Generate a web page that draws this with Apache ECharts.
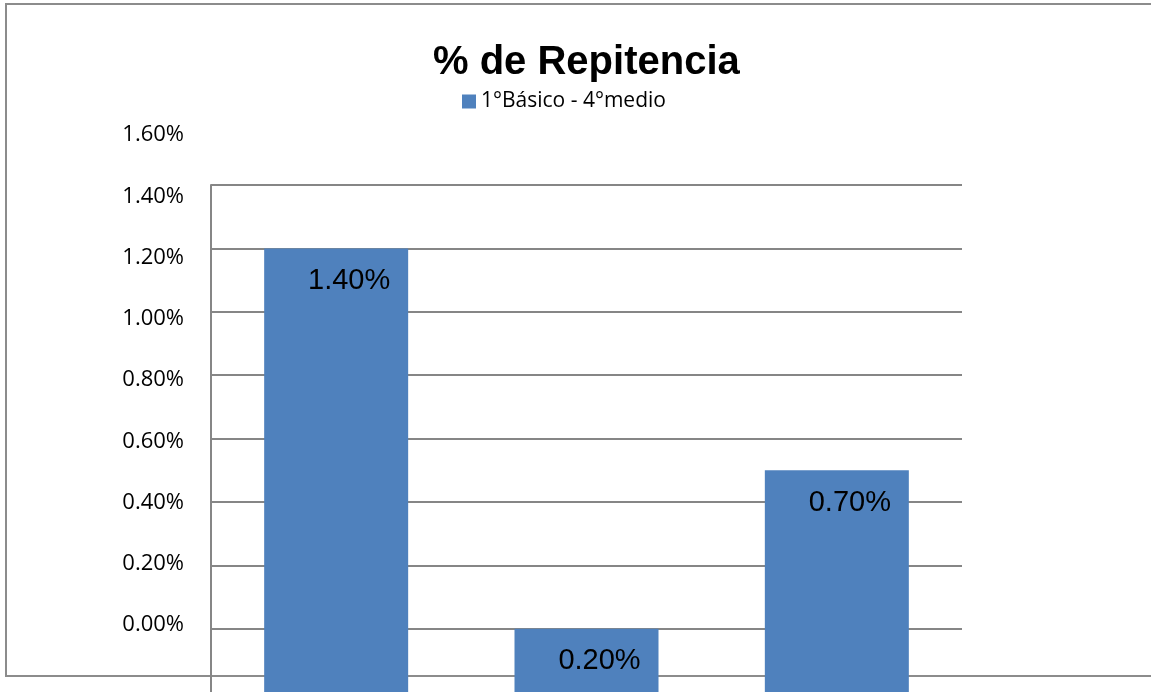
<!DOCTYPE html>
<html>
<head>
<meta charset="utf-8">
<title>% de Repitencia</title>
<script src="https://cdn.jsdelivr.net/npm/echarts@6/dist/echarts.min.js"></script>
<style>
  html, body { margin: 0; padding: 0; background: #fff; }
  #chart { width: 1151px; height: 692px; }
</style>
</head>
<body>
<div id="chart"></div>
<script>
// data
const categories = ['1', '2', '3']
const seriesName = '1°Básico - 4°medio'
const repitencia = [1.40, 0.20, 0.70]
// labels printed on the left, as they appear (shifted against the grid)
const tickLabels = ['0.00%', '0.20%', '0.40%', '0.60%', '0.80%', '1.00%', '1.20%', '1.40%', '1.60%']

const chart = echarts.init(document.getElementById('chart'))
const gridColor = '#868686'

const option = {
  backgroundColor: '#fff',
  animation: false,
  title: {
    text: '% de Repitencia',
    left: 428,
    top: 38,
    textStyle: {
      fontFamily: 'Liberation Sans',
      fontWeight: 'bold',
      fontSize: 40,
      color: '#000'
    }
  },
  legend: {
    data: [seriesName],
    left: 457,
    top: 86,
    icon: 'rect',
    itemWidth: 14,
    itemHeight: 14,
    itemGap: 8,
    textStyle: {
      fontFamily: 'Open Sans',
      fontSize: 21,
      color: '#000'
    }
  },
  graphic: [{
    type: 'rect',
    z: -10,
    shape: { x: 6, y: 4, width: 1170, height: 672 },
    style: { fill: 'none', stroke: '#8c8c8c', lineWidth: 2 }
  }],
  grid: [
    // plot area of the bars (its zero line falls just under the picture)
    { left: 211, width: 751, top: 185, height: 512 },
    // grid only used to place the left labels
    { left: 211, width: 751, top: 135, height: 490 }
  ],
  xAxis: [
    {
      type: 'category',
      gridIndex: 0,
      data: categories,
      axisLine: { show: false },
      axisTick: { show: false },
      axisLabel: { show: false }
    },
    {
      type: 'category',
      gridIndex: 1,
      data: categories,
      show: false
    }
  ],
  yAxis: [
    {
      type: 'value',
      gridIndex: 0,
      min: 0,
      max: 1.6,
      interval: 0.2,
      axisLine: { show: true, lineStyle: { color: gridColor, width: 2 } },
      axisTick: { show: false },
      axisLabel: { show: false },
      splitLine: { showMinLine: false, lineStyle: { color: gridColor, width: 2 } }
    },
    {
      type: 'category',
      gridIndex: 1,
      data: tickLabels,
      boundaryGap: false,
      axisLine: { show: false },
      axisTick: { show: false },
      splitLine: { show: false },
      axisLabel: {
        margin: 27,
        fontFamily: 'Open Sans',
        fontSize: 22,
        color: '#000'
      }
    }
  ],
  series: [{
    name: seriesName,
    type: 'bar',
    xAxisIndex: 0,
    yAxisIndex: 0,
    barWidth: 144,
    itemStyle: { color: '#4F81BD' },
    label: {
      show: true,
      position: 'insideTop',
      distance: 18,
      offset: [13, 0],
      fontFamily: 'Liberation Sans',
      fontSize: 29,
      color: '#000',
      formatter: p => p.value.toFixed(2) + '%'
    },
    data: repitencia
  }]
}

chart.setOption(option)
</script>
</body>
</html>
